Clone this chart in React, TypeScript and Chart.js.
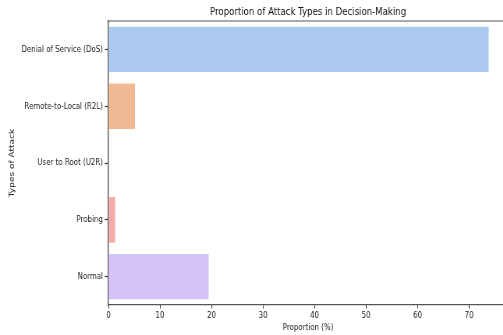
import React, { useEffect, useRef } from "react";
import { Chart, registerables } from "chart.js";

Chart.register(...registerables);

const categories = [
  "Denial of Service (DoS)",
  "Remote-to-Local (R2L)",
  "User to Root (U2R)",
  "Probing",
  "Normal",
];
const proportions = [73.8, 5.15, 0.05, 1.3, 19.45];
const barColors = ["#abc9ee", "#f1b993", "#9fdcae", "#f5aaa8", "#d5c4f7"];
const xTicks = [0, 10, 20, 30, 40, 50, 60, 70];

const SX = 0.78;
const CW = 660;
const CH = 335;
const FONT = "'DejaVu Sans', sans-serif";

const topSpine = {
  id: "topSpine",
  afterDraw(chart: any) {
    const { ctx, chartArea } = chart;
    ctx.save();
    ctx.strokeStyle = "#555";
    ctx.lineWidth = 1.2;
    ctx.beginPath();
    ctx.moveTo(chartArea.left, chartArea.top);
    ctx.lineTo(chartArea.right, chartArea.top);
    ctx.moveTo(chartArea.right, chartArea.top);
    ctx.lineTo(chartArea.right, chartArea.bottom);
    ctx.stroke();
    ctx.restore();
  },
};

export default function App() {
  const ref = useRef<HTMLCanvasElement>(null);
  useEffect(() => {
    if (!ref.current) return;
    const chart = new Chart(ref.current, {
      type: "bar",
      data: {
        labels: categories,
        datasets: [
          {
            data: proportions,
            backgroundColor: barColors,
            borderWidth: 0,
            barPercentage: 0.8,
            categoryPercentage: 1,
          },
        ],
      },
      options: {
        indexAxis: "y",
        responsive: false,
        animation: false,
        devicePixelRatio: 1,
        layout: { padding: { left: 0, right: 9, top: 0, bottom: 0 } },
        plugins: {
          legend: { display: false },
          tooltip: { enabled: false },
          title: {
            display: true,
            text: "Proportion of Attack Types in Decision-Making",
            fullSize: false,
            color: "#111",
            font: { family: FONT, size: 11, weight: "normal" },
            padding: { top: 5.4, bottom: 2.4 },
          },
        },
        scales: {
          x: {
            min: 0,
            max: 77.5,
            afterFit(scale: any) {
              scale.height = 30;
            },
            afterBuildTicks(scale: any) {
              scale.ticks = xTicks.map((v) => ({ value: v }));
            },
            border: { display: true, color: "#555", width: 1.2 },
            grid: {
              display: true,
              drawOnChartArea: false,
              drawTicks: true,
              tickLength: 3.5,
              tickColor: "#333",
              tickWidth: 1,
            },
            ticks: {
              color: "#1a1a1a",
              padding: 2,
              maxRotation: 0,
              font: { family: FONT, size: 9 },
            },
            title: {
              display: true,
              text: "Proportion (%)",
              color: "#1a1a1a",
              font: { family: FONT, size: 9 },
              padding: { top: 0, bottom: 1.9 },
            },
          },
          y: {
            afterFit(scale: any) {
              scale.width = 139;
            },
            border: { display: true, color: "#555", width: 1.4 },
            grid: {
              display: true,
              offset: false,
              drawOnChartArea: false,
              drawTicks: true,
              tickLength: 4.5,
              tickColor: "#333",
              tickWidth: 1.2,
            },
            ticks: {
              color: "#1a1a1a",
              padding: 2.5,
              font: { family: FONT, size: 9 },
            },
            title: {
              display: true,
              text: "Types of Attack",
              color: "#1a1a1a",
              font: { family: FONT, size: 9 },
              padding: { top: 10, bottom: 0 },
            },
          },
        },
      },
      plugins: [topSpine],
    } as any);
    return () => chart.destroy();
  }, []);

  return (
    <div
      style={{
        position: "fixed",
        left: 0,
        top: 0,
        width: 503,
        height: CH,
        overflow: "hidden",
        background: "#fff",
      }}
    >
      <div
        style={{
          width: CW,
          height: CH,
          transform: `scaleX(${SX})`,
          transformOrigin: "0 0",
        }}
      >
        <canvas ref={ref} width={CW} height={CH} style={{ display: "block" }} />
      </div>
    </div>
  );
}
